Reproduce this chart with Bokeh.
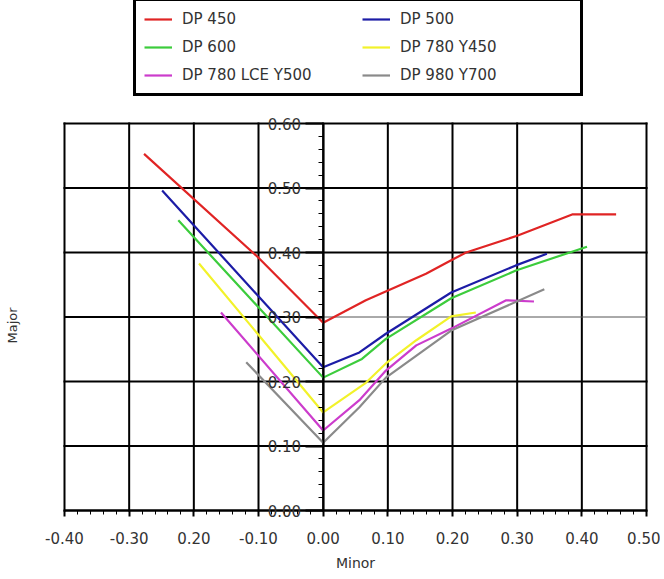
from bokeh.plotting import figure
from bokeh.models import Legend, LegendItem, FixedTicker, Label, Range1d
from bokeh.embed import file_html
from bokeh.resources import INLINE
import math

# ---- data ----
series_names = ["DP 450", "DP 500", "DP 600", "DP 780 Y450", "DP 780 LCE Y500", "DP 980 Y700"]
series_colors = ["#e02424", "#1c1ca6", "#3ccc3c", "#f2f22a", "#cc3ccc", "#8a8a8a"]

dp450_x = [-0.277, -0.10, 0.0, 0.066, 0.159, 0.198, 0.221, 0.300, 0.385, 0.453]
dp450_y = [0.553, 0.392, 0.291, 0.326, 0.367, 0.388, 0.400, 0.426, 0.459, 0.459]

dp500_x = [-0.249, 0.0, 0.056, 0.097, 0.198, 0.298, 0.346]
dp500_y = [0.496, 0.222, 0.245, 0.274, 0.338, 0.380, 0.398]

dp600_x = [-0.224, 0.0, 0.060, 0.097, 0.198, 0.298, 0.408]
dp600_y = [0.450, 0.206, 0.235, 0.266, 0.329, 0.372, 0.409]

dp780_x = [-0.192, 0.0, 0.066, 0.097, 0.144, 0.198, 0.236]
dp780_y = [0.383, 0.152, 0.198, 0.228, 0.264, 0.301, 0.307]

dp780lce_x = [-0.158, 0.0, 0.056, 0.097, 0.144, 0.198, 0.283, 0.326]
dp780lce_y = [0.307, 0.124, 0.171, 0.217, 0.256, 0.282, 0.326, 0.324]

dp980_x = [-0.119, 0.0, 0.056, 0.097, 0.198, 0.342]
dp980_y = [0.230, 0.105, 0.160, 0.206, 0.279, 0.343]

x_ticks = [-0.4, -0.3, -0.2, -0.1, 0.0, 0.1, 0.2, 0.3, 0.4, 0.5]
x_tick_labels = ["-0.40", "-0.30", "0.20", "-0.10", "0.00", "0.10", "0.20", "0.30", "0.40", "0.50"]
y_ticks = [0.0, 0.1, 0.2, 0.3, 0.4, 0.5, 0.6]
y_tick_labels = ["0.00", "0.10", "0.20", "0.30", "0.40", "0.50", "0.60"]

all_x = [dp450_x, dp500_x, dp600_x, dp780_x, dp780lce_x, dp980_x]
all_y = [dp450_y, dp500_y, dp600_y, dp780_y, dp780lce_y, dp980_y]

FONT = "DejaVu Sans"

# ---- layout: the frame fills the whole canvas; the data box sits inside it ----
W, H = 660, 574
BOX_L, BOX_R, BOX_T, BOX_B = 64, 646, 123, 510   # pixel position of the data box
x0, x1 = x_ticks[0], x_ticks[-1]
y0, y1 = y_ticks[0], y_ticks[-1]
sx = (BOX_R - BOX_L) / (x1 - x0)
sy = (BOX_B - BOX_T) / (y1 - y0)
x_range = Range1d(x0 - BOX_L / sx, x1 + (W - BOX_R) / sx)
y_range = Range1d(y0 - (H - BOX_B) / sy, y1 + BOX_T / sy)

p = figure(width=W, height=H, output_backend="svg", toolbar_location=None,
           x_range=x_range, y_range=y_range,
           min_border_left=0, min_border_right=0, min_border_top=0, min_border_bottom=0)
p.outline_line_color = None
p.background_fill_color = "white"
p.border_fill_color = "white"
p.grid.visible = False

# grid lines drawn only inside the box (outer ones form the box)
p.segment(x0=x_ticks, x1=x_ticks, y0=[y0] * len(x_ticks), y1=[y1] * len(x_ticks),
          line_color="black", line_width=2, line_cap="square", level="underlay")
y_grid = [t for t in y_ticks if abs(t - 0.3) > 1e-9]
p.segment(x0=[x0] * len(y_grid), x1=[x1] * len(y_grid), y0=y_grid, y1=y_grid,
          line_color="black", line_width=2, line_cap="square", level="underlay")
# 0.30 gridline: thick on the left half, thin on the right half
p.segment(x0=[x0], x1=[0.0], y0=[0.3], y1=[0.3], line_color="black", line_width=2, level="underlay")
p.segment(x0=[0.0], x1=[x1], y0=[0.3], y1=[0.3], line_color="#555555", line_width=1, level="underlay")

# x axis along y = 0
minor_x = [round(x0 + i * 0.02, 4) for i in range(int(round((x1 - x0) / 0.02)) + 1)]
xa = p.xaxis[0]
xa.fixed_location = 0.0
xa.bounds = (x0, x1)
xa.ticker = FixedTicker(ticks=x_ticks, minor_ticks=minor_x)
xa.major_label_overrides = {t: s for t, s in zip(x_ticks, x_tick_labels)}
xa.axis_label = "Minor"
xa.axis_label_text_font = FONT
xa.axis_label_text_font_style = "normal"
xa.axis_label_text_font_size = "14px"
xa.axis_label_text_color = "#333333"
xa.axis_label_standoff = 8
xa.major_label_text_font = FONT
xa.major_label_text_font_size = "15px"
xa.major_label_text_color = "#333333"
xa.major_label_standoff = 15
xa.axis_line_width = 2
xa.major_tick_out = 6
xa.major_tick_in = 0
xa.minor_tick_out = 4
xa.minor_tick_in = 0
xa.major_tick_line_width = 2
xa.minor_tick_line_width = 1

# y axis along x = 0
minor_y = [round(y0 + i * 0.02, 4) for i in range(int(round((y1 - y0) / 0.02)) + 1)]
ya = p.yaxis[0]
ya.fixed_location = 0.0
ya.bounds = (y0, y1)
ya.ticker = FixedTicker(ticks=y_ticks, minor_ticks=minor_y)
ya.major_label_overrides = {t: s for t, s in zip(y_ticks, y_tick_labels)}
ya.major_label_text_font = FONT
ya.major_label_text_font_size = "15px"
ya.major_label_text_color = "#333333"
ya.major_label_standoff = 4
ya.axis_line_width = 2
ya.major_tick_out = 18
ya.major_tick_in = 0
ya.minor_tick_out = 5
ya.minor_tick_in = 0
ya.major_tick_line_width = 2
ya.minor_tick_line_width = 1

p.add_layout(Label(x=12, y=H - 325, x_units="screen", y_units="screen", text="Major",
                   angle=math.pi / 2, text_align="center", text_baseline="middle",
                   text_font=FONT, text_font_size="13px", text_color="#333333"))

renderers = {}
for name, color, xs, ys in zip(series_names, series_colors, all_x, all_y):
    renderers[name] = p.line(xs, ys, line_color=color, line_width=2.2)

# legend fills column by column: order so that rows read like the reference
legend_order = ["DP 450", "DP 600", "DP 780 LCE Y500", "DP 500", "DP 780 Y450", "DP 980 Y700"]
items = [LegendItem(label=n, renderers=[renderers[n]]) for n in legend_order]

legend = Legend(items=items, ncols=2, location=(133, H - 96),
                border_line_color="black", border_line_width=3, border_line_alpha=1.0,
                background_fill_color="white", background_fill_alpha=1.0,
                label_text_font=FONT, label_text_font_size="15px", label_text_color="#333333",
                glyph_width=28, glyph_height=20, label_height=20, label_width=172,
                label_standoff=10, spacing=8, padding=8, margin=0)
p.add_layout(legend, "center")

open("out.html", "w").write(file_html(p, INLINE))
